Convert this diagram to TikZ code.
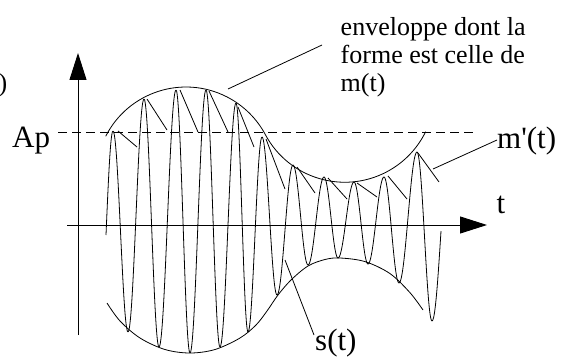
\documentclass[tikz,border=0pt]{standalone}
\usepackage{fontspec}
\setmainfont{Liberation Serif}
\newfontfamily\straightserif{Liberation Serif}[Ligatures=TeXOff]
\usetikzlibrary{arrows.meta}
\begin{document}
\begin{tikzpicture}[x=1pt,y=-1pt,
  curve/.style={line width=0.8pt},
  axis/.style={line width=1pt, -{Triangle[length=27pt,width=17pt]}},
  lbl/.style={inner sep=0pt, font=\fontsize{31}{34}\selectfont},
  note/.style={inner sep=0pt, align=left, font=\fontsize{26}{28}\selectfont},
  leader/.style={line width=0.8pt}]
\useasboundingbox (0,0) rectangle (569,358);
% axes
\coordinate (yb) at (78,335);
\coordinate (yt) at (78,53);
\coordinate (xl) at (67,225);
\coordinate (xr) at (487,225);
\draw[axis] (yb) -- (yt);
\draw[axis] (xl) -- (xr);
% Ap level
\coordinate (dl) at (58,132);
\coordinate (dr) at (473,132);
\draw[line width=0.8pt, dash pattern=on 9pt off 5pt] (dl) -- (dr);
% upper envelope
\draw[curve] (105.7,136.3) arc[start angle=206.9, end angle=331.9, radius=90]
  arc[start angle=151.9, end angle=26, radius=90];
% lower envelope
\draw[curve] plot[smooth, tension=0.55] coordinates {(107,303) (120,321) (140,338) (165,349.5) (190,353) (215,349.5) (240,338) (256,325) (267,311) (278,295) (291,280) (308,266) (325,259.5) (340,258) (365,261.6) (390,273.6) (410,292.7) (423,310)};
% modulated carrier
\draw[curve] plot[domain=0:1,samples=12,smooth] ({106+7*\x},{235-104*sin(90*\x)});
\foreach \xa/\ya/\xb/\yb in {113/131/128/332, 128/332/144/99, 144/99/159/347, 159/347/176/90, 176/90/190/353, 190/353/206/90, 206/90/220/347, 220/347/236/103, 236/103/248/332, 248/332/262/137, 262/137/277/295, 277/295/293/165, 293/165/308/265, 308/265/324/177, 324/177/338/258, 338/258/354/182, 354/182/368/264, 368/264/384/177, 384/177/399/283, 399/283/417/152, 417/152/432/321}
  \draw[curve] plot[domain=0:1,samples=25,smooth] ({\xa+(\xb-\xa)*\x},{\ya+(\yb-\ya)*(1-cos(180*\x))/2});
\draw[curve] plot[domain=0:1,samples=12,smooth] ({432+9*\x},{321-90*(1-cos(90*\x))});
% detector output (sawtooth)
\foreach \xa/\ya/\xb/\yb in {118/131/137/147, 147/99/167/130, 180/90/198/132, 209/91/228/132, 238/107/254/147, 266/139/285/189, 297/167/315/193, 328/178/347/199, 357/183/377/197, 388/176/407/199, 418/153/439/182}
  \draw[curve] (\xa,\ya) -- (\xb,\yb);
% labels
\node[lbl, anchor=base west] (ap) at (12,147) {Ap};
\node[note, anchor=base east] (cut) at (7.5,92) {)};
\node[lbl, anchor=base west] (tl) at (496.5,213) {t};
\node[lbl, anchor=base west] (mp) at (497,148) {{\straightserif m'(t)}};
\node[lbl, anchor=base west] (st) at (315,350) {s(t)};
\node[note, anchor=north west] (env) at (340.5,17.2) {enveloppe dont la\\forme est celle de\\m(t)};
% leaders
\coordinate (envA) at (228,89);
\coordinate (envB) at (322,45);
\draw[leader] (envA) -- (envB);
\coordinate (mpA) at (433,169);
\coordinate (mpB) at (497,140);
\draw[leader] (mpA) -- (mpB);
\coordinate (stA) at (285,260);
\coordinate (stB) at (314,335);
\draw[leader] (stA) -- (stB);
\end{tikzpicture}
\end{document}
